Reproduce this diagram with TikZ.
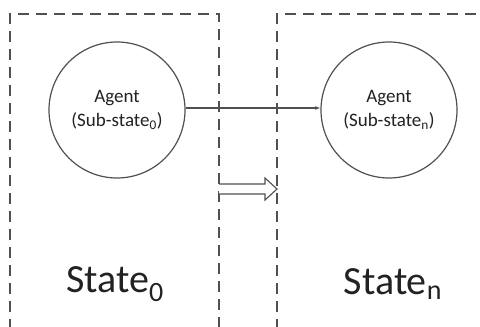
\documentclass[tikz,border=0pt]{standalone}
\usepackage{fontspec}
\setmainfont{Carlito}
\usetikzlibrary{arrows.meta}
\definecolor{ln}{HTML}{505050}
\definecolor{tx}{HTML}{222222}
\begin{document}
\begin{tikzpicture}[x=1pt,y=-1pt,
  dbox/.style={draw=ln,line width=1.2pt,dash pattern=on 11pt off 7pt},
  agent/.style={circle,draw=ln,line width=1.2pt,minimum size=136pt,inner sep=0pt,align=center,font=\fontsize{19}{24}\selectfont,text=tx},
  statelbl/.style={font=\fontsize{40}{44}\selectfont,text=tx},
  conn/.style={draw=ln,line width=1.1pt,-{Latex[length=5pt,width=4pt]}},
  hollow/.style={draw=ln,line width=1.1pt,fill=white}]
\useasboundingbox (0,0) rectangle (480,327);
\fill[white] (0,0) rectangle (480,327);
\begin{scope}
\clip (0,0) rectangle (480,327);
\draw[dbox] (10,330) -- (10,14) -- (219,14) -- (219,330);
\draw[dbox] (277,330) -- (277,14) -- (490,14);
\end{scope}
\node[agent] (a0) at (117,110) {Agent\\(Sub-state\textsubscript{0})};
\node[agent] (an) at (389,110) {Agent\\(Sub-state\textsubscript{n})};
\draw[conn] (a0.east |- 0,108) -- (an.west |- 0,108);
\draw[hollow] (219,184) -- (265,184) -- (265,178) -- (277,189) -- (265,200) -- (265,194) -- (219,194);
\node[statelbl] (s0) at (115,284) {State\textsubscript{0}};
\node[statelbl] (sn) at (393,284) {State\textsubscript{n}};
\end{tikzpicture}
\end{document}
